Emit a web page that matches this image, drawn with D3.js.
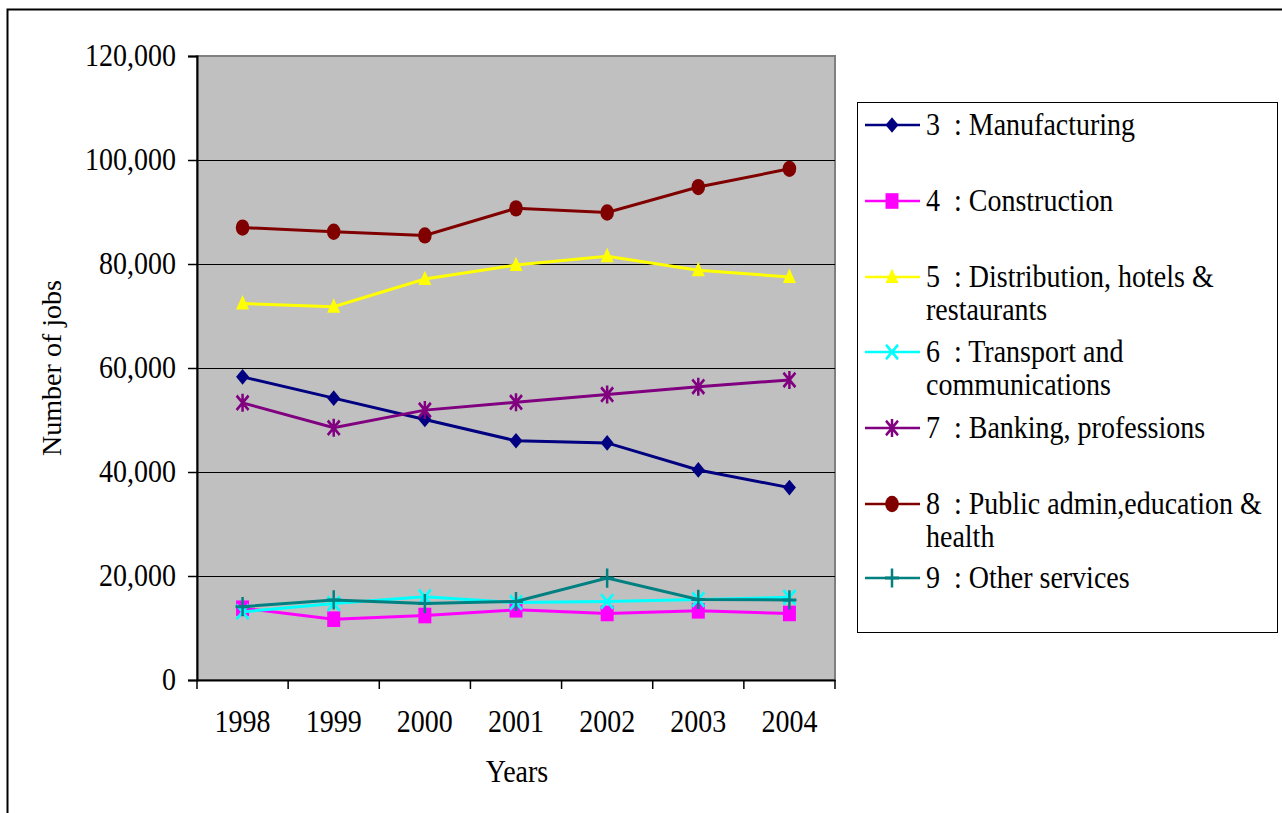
<!DOCTYPE html>
<html>
<head>
<meta charset="utf-8">
<script src="https://cdn.jsdelivr.net/npm/d3@7"></script>
<style>
  body { margin: 0; background: #fff; }
  text { font-family: "Liberation Serif", "Times New Roman", serif; white-space: pre; }
</style>
</head>
<body>
<div id="chart"></div>
<script>
// Dati (numero di posti di lavoro)
const years = ["1998", "1999", "2000", "2001", "2002", "2003", "2004"];
const manufacturing = [58300, 54200, 50100, 46000, 45600, 40400, 37000];
const construction = [13800, 11700, 12400, 13500, 12800, 13300, 12800];
const distribution = [72400, 71800, 77100, 79800, 81500, 78800, 77500];
const transport = [13100, 14700, 16000, 14900, 15100, 15500, 15900];
const banking = [53300, 48500, 51900, 53400, 54900, 56400, 57700];
const publicAdmin = [87000, 86200, 85500, 90700, 89900, 94800, 98300];
const otherServices = [14100, 15400, 14700, 15100, 19600, 15500, 15400];
const yTicks = [0, 20000, 40000, 60000, 80000, 100000, 120000];

const seriesNames = [
  ["3  : Manufacturing"],
  ["4  : Construction"],
  ["5  : Distribution, hotels &", "restaurants"],
  ["6  : Transport and", "communications"],
  ["7  : Banking, professions"],
  ["8  : Public admin,education &", "health"],
  ["9  : Other services"],
];
const seriesValues = [manufacturing, construction, distribution, transport, banking, publicAdmin, otherServices];
const seriesColors = ["#000080", "#ff00ff", "#ffff00", "#00ffff", "#800080", "#800000", "#008080"];
const seriesMarkers = ["diamond", "square", "triangle", "x", "star", "circle", "plus"];

const series = seriesValues.map((v, i) => ({
  name: seriesNames[i],
  values: v,
  color: seriesColors[i],
  marker: seriesMarkers[i],
}));

const width = 1282;
const height = 813;
const stretch = 1.2; // il grafico originale è allungato in verticale
const textStretch = 1.1;

const plot = { left: 197, right: 835, top: 56, bottom: 680 };

const svg = d3.select("#chart").append("svg")
  .attr("width", width).attr("height", height);

// cornice esterna (solo lati sinistro e superiore visibili)
svg.append("rect")
  .attr("x", 7.5).attr("y", 9.5)
  .attr("width", width + 20).attr("height", height + 20)
  .attr("fill", "none").attr("stroke", "#000").attr("stroke-width", 2);

const x = d3.scaleBand().domain(years).range([plot.left, plot.right]);
const y = d3.scaleLinear().domain([0, 120000]).range([plot.bottom, plot.top]);

// funzione per il testo allungato
function addText(g, str, tx, ty, anchor, size, rotate) {
  const t = g.append("text")
    .attr("transform", `translate(${tx},${ty})` + (rotate ? ` rotate(${rotate})` : ` scale(1,${textStretch})`))
    .attr("text-anchor", anchor)
    .attr("font-size", size)
    .attr("fill", "#000")
    .text(str);
  return t;
}

// sfondo area del grafico
svg.append("rect")
  .attr("x", plot.left).attr("y", plot.top)
  .attr("width", plot.right - plot.left).attr("height", plot.bottom - plot.top)
  .attr("fill", "#c0c0c0").attr("stroke", "#808080").attr("stroke-width", 2);

// griglia
svg.append("g").selectAll("line")
  .data(yTicks.filter((d) => d > 0 && d < 120000))
  .join("line")
  .attr("x1", plot.left).attr("x2", plot.right)
  .attr("y1", (d) => Math.round(y(d)) + 0.5).attr("y2", (d) => Math.round(y(d)) + 0.5)
  .attr("stroke", "#000").attr("stroke-width", 1);

// asse Y
const yAxis = svg.append("g")
  .attr("transform", `translate(${plot.left},0)`)
  .call(d3.axisLeft(y).tickValues(yTicks).tickSize(9).tickFormat(""));
yAxis.select(".domain").attr("stroke", "#000").attr("stroke-width", 2);
yAxis.selectAll(".tick line").attr("stroke", "#000").attr("stroke-width", 1.5);

const fmt = d3.format(",");
yTicks.forEach((d) => addText(svg, fmt(d), 176, y(d) + 10, "end", 28));

// asse X
const xAxis = svg.append("g")
  .attr("transform", `translate(0,${plot.bottom})`)
  .call(d3.axisBottom(x).tickSize(0).tickFormat(""));
xAxis.select(".domain").attr("stroke", "#000").attr("stroke-width", 2);
svg.append("g").selectAll("line")
  .data(d3.range(years.length + 1))
  .join("line")
  .attr("x1", (i) => plot.left + i * x.step()).attr("x2", (i) => plot.left + i * x.step())
  .attr("y1", plot.bottom).attr("y2", plot.bottom + 9)
  .attr("stroke", "#000").attr("stroke-width", 1.5);

years.forEach((yr) => addText(svg, yr, x(yr) + x.bandwidth() / 2, 732, "middle", 28));

// titoli degli assi
addText(svg, "Years", 517, 782, "middle", 28);
addText(svg, "Number of jobs", 61, 368, "middle", 28, -90);

// simboli
function drawMarker(g, type, cx, cy, color) {
  const m = g.append("g").attr("transform", `translate(${cx},${cy}) scale(1,${stretch})`);
  if (type === "diamond") {
    m.append("path").attr("d", "M0,-6.5L6.5,0L0,6.5L-6.5,0Z").attr("fill", color);
  } else if (type === "square") {
    m.append("rect").attr("x", -6.5).attr("y", -6.5).attr("width", 13).attr("height", 13).attr("fill", color);
  } else if (type === "triangle") {
    m.append("path").attr("d", "M0,-7L6.5,5L-6.5,5Z").attr("fill", color);
  } else if (type === "circle") {
    m.append("circle").attr("r", 6.8).attr("fill", color);
  } else if (type === "x") {
    m.append("path").attr("d", "M-6,-6L6,6M-6,6L6,-6").attr("stroke", color).attr("stroke-width", 2.5);
  } else if (type === "star") {
    m.append("path").attr("d", "M-6,-6L6,6M-6,6L6,-6M0,-7.5L0,7.5").attr("stroke", color).attr("stroke-width", 2.5);
  } else if (type === "plus") {
    m.append("path").attr("d", "M0,-8L0,8M-7,0L7,0").attr("stroke", color).attr("stroke-width", 2.5);
  }
}

// linee
const line = d3.line()
  .x((d, i) => x(years[i]) + x.bandwidth() / 2)
  .y((d) => y(d));

series.forEach((s) => {
  const g = svg.append("g");
  g.append("path")
    .datum(s.values)
    .attr("d", line)
    .attr("fill", "none")
    .attr("stroke", s.color)
    .attr("stroke-width", 3);
  s.values.forEach((v, i) => drawMarker(g, s.marker, x(years[i]) + x.bandwidth() / 2, y(v), s.color));
});

// legenda
const legend = svg.append("g");
legend.append("rect")
  .attr("x", 857.5).attr("y", 102.5).attr("width", 420).attr("height", 530)
  .attr("fill", "#fff").attr("stroke", "#000").attr("stroke-width", 1);

const legendY = [125, 201, 277, 352, 428, 504, 578];
series.forEach((s, i) => {
  const ly = legendY[i];
  legend.append("line")
    .attr("x1", 865).attr("x2", 920).attr("y1", ly).attr("y2", ly)
    .attr("stroke", s.color).attr("stroke-width", 2.5);
  drawMarker(legend, s.marker, 892, ly, s.color);
  s.name.forEach((str, j) => addText(legend, str, 926, ly + 10 + j * 33, "start", 28));
});
</script>
</body>
</html>
